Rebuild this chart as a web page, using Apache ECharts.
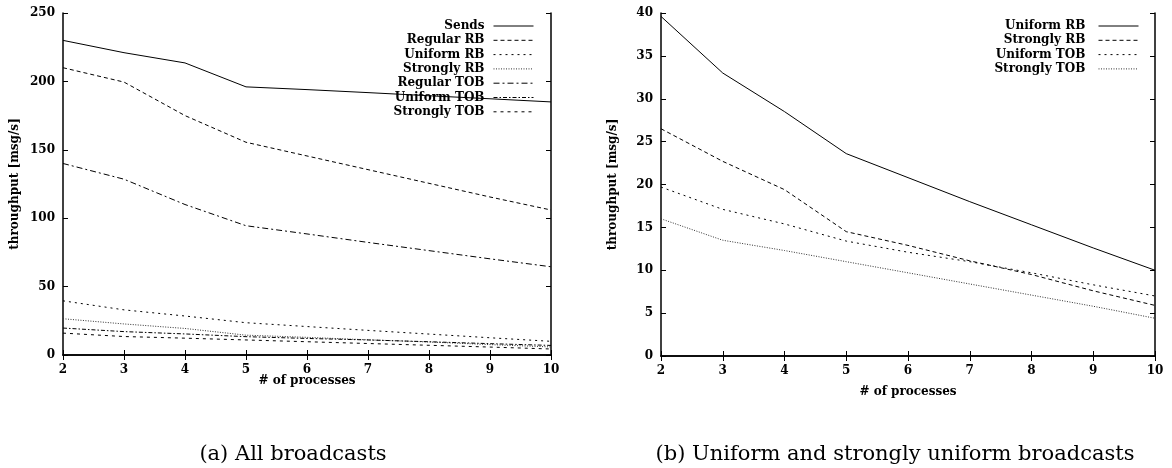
<!DOCTYPE html>
<html>
<head>
<meta charset="utf-8">
<script src="https://cdn.jsdelivr.net/npm/echarts@6/dist/echarts.min.js"></script>
<style>
html,body{margin:0;padding:0;background:#fff;}
#chart{width:1172px;height:468px;}
</style>
</head>
<body>
<div id="chart"></div>
<script>
var processes = [2, 3, 4, 5, 6, 7, 8, 9, 10];
var sends      = [230, 221, 213.5, 196, 194, 191.8, 189.5, 187.3, 185];
var regularRB  = [210, 199.5, 175, 155.5, 145.5, 135.5, 125.5, 115.5, 106];
var uniformRB  = [39.6, 33, 28.5, 23.6, 20.8, 18, 15.3, 12.6, 10];
var stronglyRB = [26.5, 22.7, 19.4, 14.5, 12.9, 11.1, 9.5, 7.6, 5.9];
var regularTOB = [140, 128.5, 110, 94.5, 88.5, 82.3, 76.3, 70.3, 64.5];
var uniformTOB = [19.7, 17.1, 15.4, 13.4, 12.1, 11.0, 9.7, 8.3, 7.0];
var stronglyTOB= [16, 13.5, 12.3, 11.0, 9.7, 8.4, 7.1, 5.8, 4.4];
var leftYTicks = [0, 50, 100, 150, 200, 250];
var rightYTicks = [0, 5, 10, 15, 20, 25, 30, 35, 40];
var xTicks = [2, 3, 4, 5, 6, 7, 8, 9, 10];

function pairs(ys) { return processes.map(function (x, i) { return [x, ys[i]]; }); }

var FONT = 'DejaVu Serif';
var tickFont = { fontFamily: FONT, fontWeight: 'bold', fontSize: 12, color: '#000' };
var axisLine = { show: true, lineStyle: { color: '#000', width: 1.5 } };
var axisTick = { show: true, inside: true, length: 5, lineStyle: { color: '#000', width: 1 } };

function xAxes(gi, nameGap) {
  return [{
    type: 'value', gridIndex: gi, position: 'bottom', min: xTicks[0], max: xTicks[xTicks.length - 1], interval: 1,
    axisLine: axisLine, axisTick: axisTick, splitLine: { show: false },
    axisLabel: Object.assign({ margin: 9 }, tickFont),
    name: '# of processes', nameLocation: 'middle', nameGap: nameGap, nameMoveOverlap: false,
    nameTextStyle: { fontFamily: FONT, fontWeight: 'bold', fontSize: 12, color: '#000' }
  }, {
    type: 'value', gridIndex: gi, position: 'top', min: xTicks[0], max: xTicks[xTicks.length - 1], interval: 1,
    axisLine: axisLine, axisTick: axisTick, splitLine: { show: false },
    axisLabel: { show: false }
  }];
}
function yAxes(gi, ticks) {
  var max = ticks[ticks.length - 1], interval = ticks[1] - ticks[0];
  return [{
    type: 'value', gridIndex: gi, position: 'left', min: 0, max: max, interval: interval,
    axisLine: axisLine, axisTick: axisTick, splitLine: { show: false },
    axisLabel: Object.assign({ margin: 8 }, tickFont),
    name: 'throughput [msg/s]', nameLocation: 'middle', nameGap: 42, nameRotate: 90,
    nameTextStyle: { fontFamily: FONT, fontWeight: 'bold', fontSize: 12, color: '#000' }
  }, {
    type: 'value', gridIndex: gi, position: 'right', min: 0, max: max, interval: interval,
    axisLine: axisLine, axisTick: axisTick, splitLine: { show: false },
    axisLabel: { show: false }
  }];
}

function line(name, data, xi, yi, dash, color) {
  return {
    name: name, type: 'line', xAxisIndex: xi, yAxisIndex: yi, data: pairs(data),
    symbol: 'none', smooth: false, animation: false,
    lineStyle: { color: color || '#000', width: 1, type: dash },
    itemStyle: { color: color || '#000' }
  };
}

var legendText = {
  fontFamily: FONT, fontWeight: 'bold', fontSize: 12, color: '#000',
  rich: { t: { fontFamily: FONT, fontWeight: 'bold', fontSize: 12, color: '#000', width: 110, align: 'right', padding: [0, 4, 0, 0] } }
};
function legend(right, names) {
  return {
    orient: 'vertical', right: right, top: 15, align: 'right', itemWidth: 40, itemHeight: 12, itemGap: 2.3,
    itemStyle: { opacity: 0 },
    lineStyle: { width: 1 },
    formatter: function (n) { return '{t|' + n + '}'; }, textStyle: legendText,
    data: names
  };
}

var chart = echarts.init(document.getElementById('chart'), null, { renderer: 'canvas' });
chart.setOption({
  animation: false,
  backgroundColor: '#fff',
  title: [
    { text: '(a) All broadcasts', left: 288, top: 439, textAlign: 'center',
      textStyle: { fontFamily: FONT, fontWeight: 'normal', fontSize: 21, color: '#000' } },
    { text: '(b) Uniform and strongly uniform broadcasts', left: 890, top: 439, textAlign: 'center',
      textStyle: { fontFamily: FONT, fontWeight: 'normal', fontSize: 21, color: '#000' } }
  ],
  grid: [
    { left: 63, top: 13, width: 488, height: 342 },
    { left: 661, top: 13, width: 494, height: 343 }
  ],
  xAxis: xAxes(0, 20).concat(xAxes(1, 30)),
  yAxis: yAxes(0, leftYTicks).concat(yAxes(1, rightYTicks)),
  legend: [
    legend(633, ['Sends', 'Regular RB', 'Uniform RB', 'Strongly RB', 'Regular TOB', 'Uniform TOB', 'Strongly TOB']),
    legend(28, ['Uniform RB ', 'Strongly RB ', 'Uniform TOB ', 'Strongly TOB '])
  ],
  series: [
    line('Sends', sends, 0, 0, 'solid'),
    line('Regular RB', regularRB, 0, 0, [4, 3]),
    line('Uniform RB', uniformRB, 0, 0, [2, 4]),
    line('Strongly RB', stronglyRB, 0, 0, [1, 1.5], '#333'),
    line('Regular TOB', regularTOB, 0, 0, [6, 3, 2, 3]),
    line('Uniform TOB', uniformTOB, 0, 0, [4, 2, 1.5, 2]),
    line('Strongly TOB', stronglyTOB, 0, 0, [3, 4]),
    line('Uniform RB ', uniformRB, 2, 2, 'solid'),
    line('Strongly RB ', stronglyRB, 2, 2, [4, 3]),
    line('Uniform TOB ', uniformTOB, 2, 2, [2, 4]),
    line('Strongly TOB ', stronglyTOB, 2, 2, [1, 1.5], '#333')
  ]
});
</script>
</body>
</html>
